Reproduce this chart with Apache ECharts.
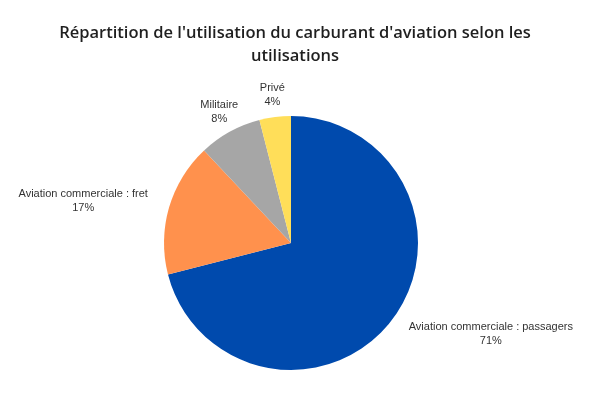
<!DOCTYPE html>
<html>
<head>
<meta charset="utf-8">
<script src="https://cdn.jsdelivr.net/npm/echarts@6/dist/echarts.min.js"></script>
<style>
  html, body { margin: 0; padding: 0; background: #fff; }
  #chart { width: 590px; height: 399px; }
</style>
</head>
<body>
<div id="chart"></div>
<script>
  // categories and shares (%)
  const categories = ['Aviation commerciale : passagers', 'Aviation commerciale : fret', 'Militaire', 'Privé']
  const shares = [71, 17, 8, 4]
  const colors = ['#004AAD', '#FF914D', '#A6A6A6', '#FFDE59']

  const pieCenter = [291, 243]
  const pieRadius = 127
  const labelGap = 22

  // mid angle of each slice, clockwise from 12 o'clock
  const total = shares.reduce((a, b) => a + b, 0)
  let acc = 0
  const midAngles = shares.map(v => {
    const mid = (acc + v / 2) / total * Math.PI * 2
    acc += v
    return mid
  })

  // labels sit on the bisector, just outside the pie, lines centred
  function placeLabel(params) {
    const a = midAngles[params.dataIndex]
    const dx = Math.sin(a)
    const dy = -Math.cos(a)
    const d = pieRadius + labelGap
    let x = pieCenter[0] + dx * d
    const y = pieCenter[1] + dy * d
    const w = params.labelRect.width
    if (dx > 0.7) x += w / 2
    else if (dx < -0.7) x -= w / 2
    return { x: x, y: y, align: 'center', verticalAlign: 'middle' }
  }

  const chart = echarts.init(document.getElementById('chart'))
  chart.setOption({
    title: {
      text: "Répartition de l'utilisation du carburant d'aviation selon les\nutilisations",
      left: 'center',
      top: 17,
      textStyle: {
        fontFamily: 'Open Sans',
        fontSize: 16.5,
        fontWeight: 600,
        color: '#1f1f1f',
        lineHeight: 23
      }
    },
    series: [
      {
        type: 'pie',
        center: pieCenter,
        radius: pieRadius,
        startAngle: 90,
        clockwise: true,
        animation: false,
        silent: true,
        data: categories.map((name, i) => ({
          name: name,
          value: shares[i],
          itemStyle: { color: colors[i] }
        })),
        label: {
          show: true,
          position: 'outside',
          formatter: '{b}\n{c}%',
          fontFamily: 'Liberation Sans',
          fontSize: 11,
          lineHeight: 14,
          color: '#333',
          overflow: 'none'
        },
        labelLine: { show: false },
        labelLayout: placeLabel
      }
    ]
  })
</script>
</body>
</html>
